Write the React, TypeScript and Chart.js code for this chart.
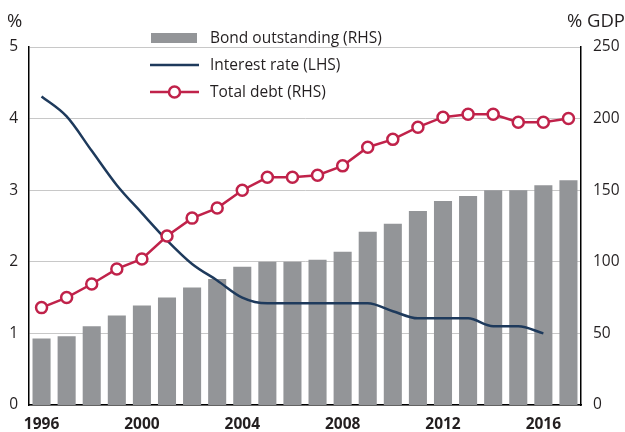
import React, { useEffect, useRef } from 'react';
import { Chart, registerables } from 'chart.js';

Chart.register(...registerables);

const years = ['1996', '1997', '1998', '1999', '2000', '2001', '2002', '2003', '2004', '2005', '2006', '2007', '2008', '2009', '2010', '2011', '2012', '2013', '2014', '2015', '2016', '2017'];
const bondOutstanding = [46.5, 48, 55, 62.5, 69.5, 75, 82, 88, 96.5, 100, 100, 101.5, 107, 121, 126.5, 135.5, 142.5, 146, 150, 150, 153.5, 157];
const interestRate = [4.31, 4.03, 3.55, 3.07, 2.68, 2.3, 1.97, 1.74, 1.5, 1.42, 1.42, 1.42, 1.42, 1.42, 1.31, 1.21, 1.21, 1.21, 1.1, 1.1, 1.0, null];
const totalDebt = [68, 75, 84.5, 95, 102, 118, 130.5, 137.5, 150, 159, 159, 160.5, 167, 180, 185.5, 194, 201, 203, 203, 197.5, 197.5, 200];
const xTickLabels = ['1996', '2000', '2004', '2008', '2012', '2016'];
const leftAxisTitle = '%';
const rightAxisTitle = '% GDP';
const seriesLabels = ['Bond outstanding (RHS)', 'Interest rate (LHS)', 'Total debt (RHS)'];

const FONT = '"Open Sans", "Noto Sans", sans-serif';
const TEXT = '#231f20';
const GRAY = '#939598';
const NAVY = '#1e3a5c';
const CRIMSON = '#c0224a';

const overlayPlugin = {
  id: 'overlay',
  afterDraw(chart: any) {
    const ctx = chart.ctx;
    ctx.save();
    ctx.fillStyle = TEXT;
    ctx.font = `18.5px ${FONT}`;
    ctx.textBaseline = 'middle';
    ctx.textAlign = 'left';
    ctx.fillText(leftAxisTitle, 7, 22);
    ctx.textAlign = 'right';
    ctx.fillText(rightAxisTitle, 625, 22);

    // legend
    ctx.font = `15.5px ${FONT}`;
    const lx = 151;
    const tx = 210;
    const rows = [38, 65, 92];
    ctx.textAlign = 'left';
    ctx.fillStyle = GRAY;
    ctx.fillRect(lx, rows[0] - 5, 46, 10);
    ctx.strokeStyle = NAVY;
    ctx.lineWidth = 2.5;
    ctx.beginPath();
    ctx.moveTo(lx - 1, rows[1]);
    ctx.lineTo(lx + 48, rows[1]);
    ctx.stroke();
    ctx.strokeStyle = CRIMSON;
    ctx.beginPath();
    ctx.moveTo(lx - 1, rows[2]);
    ctx.lineTo(lx + 48, rows[2]);
    ctx.stroke();
    ctx.beginPath();
    ctx.arc(lx + 23.5, rows[2], 5.5, 0, Math.PI * 2);
    ctx.fillStyle = '#ffffff';
    ctx.fill();
    ctx.stroke();

    ctx.fillStyle = TEXT;
    seriesLabels.forEach((s, i) => ctx.fillText(s, tx, rows[i] + 1));
    ctx.restore();
  },
};

export default function App() {
  const ref = useRef<HTMLCanvasElement | null>(null);
  useEffect(() => {
    if (!ref.current) return;
    const chart = new Chart(ref.current, {
      type: 'bar',
      data: {
        labels: years,
        datasets: [
          {
            type: 'line',
            label: seriesLabels[2],
            data: totalDebt,
            yAxisID: 'y1',
            borderColor: CRIMSON,
            borderWidth: 2.5,
            pointRadius: 5.5,
            pointBorderWidth: 2.5,
            pointBackgroundColor: '#ffffff',
            pointBorderColor: CRIMSON,
            tension: 0,
            order: 0,
          },
          {
            type: 'line',
            label: seriesLabels[1],
            data: interestRate,
            yAxisID: 'y',
            borderColor: NAVY,
            borderWidth: 2.5,
            pointRadius: 0,
            cubicInterpolationMode: 'monotone',
            order: 1,
          },
          {
            type: 'bar',
            label: seriesLabels[0],
            data: bondOutstanding,
            yAxisID: 'y1',
            backgroundColor: GRAY,
            barPercentage: 0.72,
            categoryPercentage: 1,
            order: 2,
          },
        ],
      } as any,
      options: {
        responsive: false,
        animation: false,
        layout: { padding: { top: 47, left: 0, right: 0, bottom: 0 } },
        plugins: { legend: { display: false }, tooltip: { enabled: false } },
        scales: {
          x: {
            offset: true,
            grid: { display: false, drawTicks: false },
            border: { display: true, color: '#000000', width: 1.5 },
            ticks: {
              autoSkip: false,
              maxRotation: 0,
              padding: 10,
              color: TEXT,
              font: { family: FONT, size: 15.5, weight: 'bold' },
              callback: (_v: any, i: number) => (xTickLabels.includes(years[i]) ? years[i] : ''),
            },
            afterFit: (s: any) => { s.height = 27; },
          },
          y: {
            position: 'left',
            min: 0,
            max: 5,
            grid: { color: '#c8c8c8', lineWidth: 1, drawTicks: false },
            border: { display: true, color: '#000000', width: 1.5 },
            ticks: {
              stepSize: 1,
              padding: 11,
              color: TEXT,
              font: { family: FONT, size: 15.5 },
            },
            afterFit: (s: any) => { s.width = 29; },
          },
          y1: {
            position: 'right',
            min: 0,
            max: 250,
            grid: { display: false, drawTicks: false },
            border: { display: true, color: '#000000', width: 1.5 },
            ticks: {
              stepSize: 50,
              padding: 12,
              color: TEXT,
              font: { family: FONT, size: 15.5 },
            },
            afterFit: (s: any) => { s.width = 44; },
          },
        },
      } as any,
      plugins: [overlayPlugin],
    });
    return () => chart.destroy();
  }, []);
  return (
    <div style={{ position: 'fixed', left: 0, top: 0, width: 625, height: 432, background: '#ffffff' }}>
      <canvas ref={ref} width={625} height={432} style={{ display: 'block' }} />
    </div>
  );
}
